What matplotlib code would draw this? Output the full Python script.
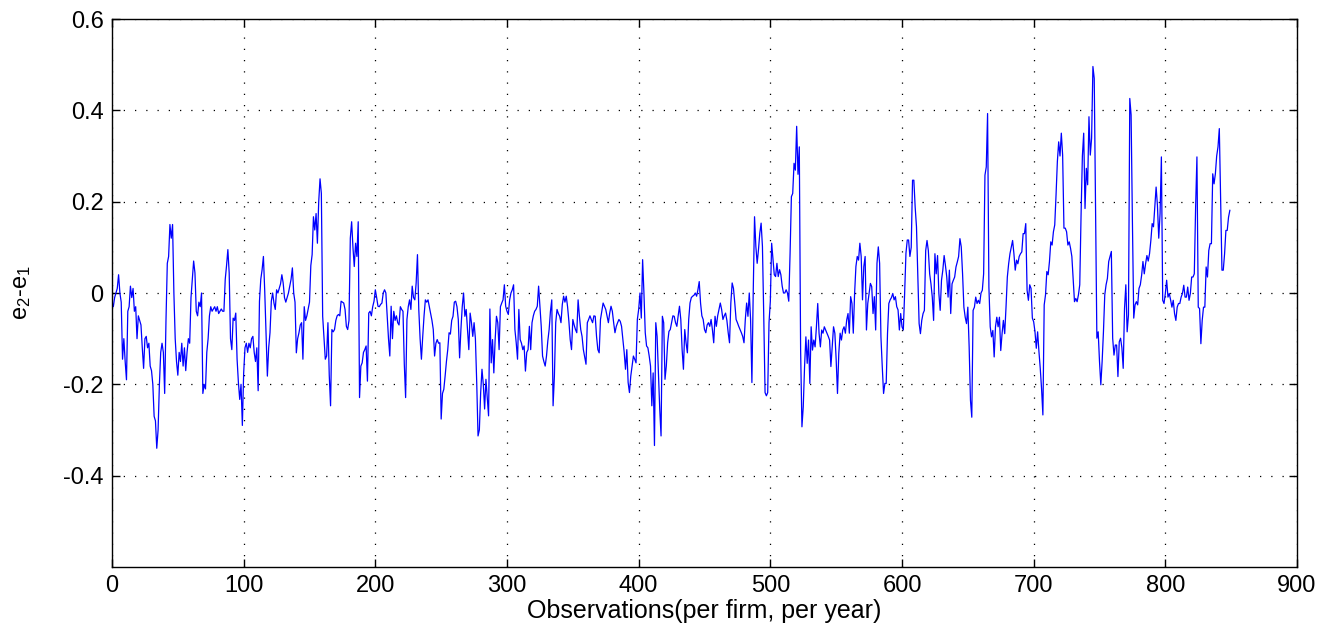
import numpy as np
import matplotlib
matplotlib.use("Agg")
import matplotlib.pyplot as plt

plt.rcParams['font.family'] = ['Liberation Sans', 'DejaVu Sans']
plt.rcParams['mathtext.fontset'] = 'custom'
plt.rcParams['mathtext.rm'] = 'Liberation Sans'
plt.rcParams['mathtext.it'] = 'Liberation Sans'
plt.rcParams['mathtext.default'] = 'regular'

seg1 = [-0.02, -0.03, -0.01, 0.0, 0.01, 0.04, 0.0, -0.02, -0.145, -0.10,
        -0.15, -0.19, -0.04, -0.03, 0.015, -0.01, 0.01, -0.04, -0.03, -0.10,
        -0.05, -0.06, -0.07, -0.12, -0.165, -0.10, -0.095, -0.12, -0.11, -0.16,
        -0.17, -0.20, -0.27, -0.28, -0.34, -0.30, -0.20, -0.13, -0.11, -0.13,
        -0.22, -0.06, 0.065, 0.08, 0.15, 0.12, 0.15, 0.0, -0.10, -0.15,
        -0.18, -0.13, -0.15, -0.11, -0.16, -0.12, -0.17, -0.13, -0.10, -0.11,
        -0.01, 0.03, 0.07, 0.044, -0.04, -0.05, -0.02, -0.03, 0.0, -0.22,
        -0.20, -0.21, -0.13, -0.10, -0.05, -0.03, -0.04, -0.035, -0.03, -0.04,
        -0.03, -0.045, -0.04, -0.035, -0.04, -0.04]
seg2 = [0.03, 0.06, 0.095, 0.044, -0.10, -0.124, -0.055, -0.06, -0.044, -0.145,
        -0.196, -0.233, -0.20, -0.29, -0.175, -0.12, -0.11, -0.13, -0.11, -0.12,
        -0.10, -0.095, -0.13, -0.15, -0.12, -0.214, -0.018, 0.03, 0.051, 0.08,
        0.004, -0.087, -0.182, -0.12, -0.087, -0.018, 0.0, -0.022, -0.036, 0.007,
        0.0, 0.01, 0.02, 0.04, 0.022, -0.01, -0.02, -0.01, 0.0, 0.015,
        0.03, 0.055, 0.0, -0.02, -0.131, -0.10, -0.087, -0.07, -0.065, -0.145,
        -0.03, -0.06, -0.05, -0.035, -0.02, 0.06, 0.084, 0.167, 0.138, 0.174,
        0.109, 0.20, 0.25, 0.218, -0.051, -0.10, -0.145, -0.138, -0.065, -0.18,
        -0.247, -0.08, -0.085, -0.08, -0.06, -0.05, -0.047]
seg3 = [-0.05, -0.018, -0.02, -0.022, -0.036, -0.073, -0.08, -0.06, 0.12, 0.156,
        0.10, 0.058, 0.109, 0.08, 0.156, -0.229, -0.16, -0.153, -0.13, -0.124,
        -0.116, -0.193, -0.044, -0.04, -0.05, -0.03, -0.018, 0.007, -0.01, -0.029,
        -0.03, -0.025, -0.022, 0.0, 0.007, 0.0, -0.05, -0.10, -0.138, -0.029,
        -0.10, -0.04, -0.06, -0.05, -0.065, -0.07, -0.03, -0.036, -0.04, -0.156,
        -0.229, -0.058, -0.03, -0.015, -0.036, 0.015, -0.01, -0.015, 0.022, 0.084,
        -0.036, -0.10, -0.145, -0.095, -0.05, -0.015, -0.02, -0.015, -0.03, -0.044,
        -0.06, -0.08, -0.138, -0.11, -0.102, -0.11, -0.109, -0.276, -0.22, -0.211,
        -0.182, -0.15, -0.124, -0.087, -0.09, -0.06, -0.051]
seg4 = [-0.02, -0.018, -0.03, -0.058, -0.142, -0.08, -0.03, 0.0, -0.051, -0.036,
        -0.08, -0.124, -0.044, -0.065, -0.095, -0.065, -0.10, -0.196, -0.313, -0.30,
        -0.218, -0.167, -0.20, -0.254, -0.189, -0.23, -0.269, -0.035, -0.153, -0.102,
        -0.175, -0.102, -0.051, -0.065, -0.124, -0.03, -0.022, -0.015, 0.018, -0.029,
        -0.04, -0.047, -0.015, 0.0, 0.007, 0.018, -0.08, -0.109, -0.145, -0.036,
        -0.102, -0.11, -0.124, -0.116, -0.171, -0.13, -0.124, -0.073, -0.124, -0.065,
        -0.05, -0.04, -0.036, -0.029, 0.015, -0.029, -0.073, -0.138, -0.15, -0.16,
        -0.138, -0.105, -0.08, -0.04, -0.015, -0.247, -0.182, -0.065, -0.036, -0.045,
        -0.051, -0.065, -0.025, -0.007, -0.02]
seg5 = [-0.007, -0.03, -0.062, -0.102, -0.124, -0.058, -0.07, -0.08, -0.087, -0.015,
        -0.051, -0.08, -0.095, -0.124, -0.140, -0.156, -0.065, -0.058, -0.05, -0.058,
        -0.065, -0.05, -0.051, -0.095, -0.124, -0.131, -0.058, -0.04, -0.022, -0.029,
        -0.036, -0.051, -0.065, -0.044, -0.029, -0.04, -0.065, -0.087, -0.073, -0.065,
        -0.058, -0.062, -0.073, -0.102, -0.13, -0.167, -0.124, -0.196, -0.218, -0.182,
        -0.16, -0.138, -0.145, -0.153, -0.058, -0.036, 0.0, -0.055, 0.073, 0.0,
        -0.087, -0.116, -0.12, -0.138, -0.16, -0.247, -0.175, -0.334, -0.065, -0.095,
        -0.175, -0.254, -0.313, -0.051, -0.065, -0.189, -0.16, -0.109, -0.084, -0.08,
        -0.065, -0.05, -0.051, -0.065, -0.073, -0.05, -0.029, -0.058, -0.124, -0.167]
seg6 = [-0.08, -0.109, -0.131, -0.058, -0.022, -0.01, -0.007, -0.005, 0.0, -0.007,
        0.007, 0.025, -0.022, -0.05, -0.058, -0.08, -0.087, -0.07, -0.065, -0.073,
        -0.058, -0.08, -0.109, -0.051, -0.073, -0.05, -0.036, -0.022, -0.036, -0.058,
        -0.05, -0.044, -0.06, -0.087, -0.109, -0.022, 0.022, 0.01, -0.022, -0.058,
        -0.065, -0.073, -0.08, -0.087, -0.095, -0.109, -0.058, -0.022, -0.051, 0.0,
        -0.058, -0.196, 0.0, 0.167, 0.102, 0.065, 0.095, 0.131, 0.153, 0.102,
        -0.051, -0.218, -0.225, -0.218, -0.065, -0.018, 0.109, 0.073, 0.04, 0.036,
        0.065, 0.036, 0.051, 0.04, 0.015, 0.0, 0.0, 0.007, 0.0, -0.018,
        0.087, 0.211, 0.218, 0.284, 0.269, 0.365, 0.26, 0.32]
seg7 = [-0.125, -0.293, -0.249, -0.161, -0.096, -0.154, -0.103, -0.198, -0.074, -0.125,
        -0.103, -0.118, -0.074, -0.023, -0.088, -0.118, -0.081, -0.088, -0.074, -0.081,
        -0.088, -0.095, -0.103, -0.161, -0.118, -0.074, -0.088, -0.146, -0.22, -0.132,
        -0.088, -0.103, -0.081, -0.074, -0.088, -0.059, -0.045, -0.088, -0.008, -0.023,
        -0.088, -0.001, 0.058, 0.08, 0.072, 0.109, 0.08, -0.015, 0.058, 0.08,
        -0.081, -0.023, -0.001, 0.021, 0.014, -0.045, -0.008, -0.081, 0.065, 0.101,
        0.065, -0.096, -0.161, -0.22, -0.198, -0.198, -0.088, -0.023, -0.015, -0.01,
        -0.001, -0.015, -0.008, -0.03, -0.037, -0.081, -0.045, -0.074, -0.081, -0.001,
        0.087, 0.116, 0.116, 0.08, 0.1, 0.247]
seg8 = [0.247, 0.188, 0.145, 0.042, -0.067, -0.089, -0.06, -0.045, -0.038, 0.093,
        0.115, 0.093, 0.042, 0.02, -0.009, -0.06, 0.086, 0.042, 0.082, -0.001,
        -0.038, 0.028, 0.05, 0.082, 0.06, 0.035, -0.009, 0.05, -0.045, 0.02,
        0.028, 0.035, 0.057, 0.068, 0.08, 0.119, 0.101, 0.042, -0.031, -0.053,
        -0.067, -0.031, -0.118, -0.235, -0.272, -0.038, -0.031, -0.009, -0.023, -0.016,
        -0.023, 0.0, 0.006, 0.042, 0.258, 0.276, 0.393, 0.013, -0.074, -0.096,
        -0.082, -0.14, -0.074, -0.053, -0.074, -0.053, -0.126, -0.089, -0.06, -0.089,
        -0.031, 0.035, 0.064, 0.086, 0.101, 0.115, 0.086, 0.05, 0.072, 0.064,
        0.08, 0.086, 0.09, 0.13, 0.13, 0.152, 0.006, -0.016]
seg9 = [0.018, 0.01, -0.055, -0.063, -0.085, -0.121, -0.085, -0.128, -0.165, -0.21,
        -0.267, -0.026, -0.004, 0.047, 0.04, 0.069, 0.112, 0.105, 0.134, 0.149,
        0.215, 0.288, 0.331, 0.30, 0.35, 0.302, 0.142, 0.142, 0.134, 0.105,
        0.112, 0.098, 0.08, 0.032, -0.019, -0.012, -0.019, -0.004, 0.018, 0.171,
        0.30, 0.35, 0.185, 0.273, 0.237, 0.386, 0.302, 0.339, 0.496, 0.47,
        0.185, -0.099, -0.085, -0.15, -0.201, -0.15, -0.085, -0.004, 0.018, 0.032,
        0.069, 0.08, 0.091, -0.099, -0.136, -0.114, -0.114, -0.183, -0.107, -0.099,
        -0.12, -0.165, -0.034, 0.018, -0.085, -0.048, 0.426, 0.39, 0.156, -0.055,
        -0.026, -0.019, -0.026, 0.01, 0.018, 0.039, 0.069]
seg10 = [0.042, 0.064, 0.082, 0.07, 0.086, 0.115, 0.152, 0.145, 0.188, 0.232,
         0.192, 0.12, 0.174, 0.298, -0.016, -0.023, -0.001, 0.028, -0.009, -0.001,
         -0.015, -0.031, -0.016, -0.045, -0.06, -0.031, -0.023, -0.023, -0.009, -0.001,
         0.017, -0.009, -0.009, 0.013, -0.016, -0.001, 0.035, 0.035, 0.042, 0.188,
         0.298, -0.031, -0.034, -0.111, -0.06, -0.031, -0.031, 0.057, 0.035, 0.093,
         0.108, 0.108, 0.261, 0.239, 0.261, 0.3, 0.32, 0.36, 0.21, 0.05,
         0.05, 0.086, 0.137, 0.137, 0.166, 0.181]

e_diff = np.array(seg1 + seg2 + seg3 + seg4 + seg5 + seg6 + seg7 + seg8 + seg9 + seg10)
obs = np.arange(len(e_diff))

x_ticks = [0, 100, 200, 300, 400, 500, 600, 700, 800, 900]
y_ticks = [-0.4, -0.2, 0, 0.2, 0.4, 0.6]
y_tick_labels = ['-0.4', '-0.2', '0', '0.2', '0.4', '0.6']

fig = plt.figure(figsize=(13.2, 6.41), dpi=100)
ax = fig.add_axes([112/1320, 1 - 567/641, (1297-112)/1320, (567-19)/641])
ax.plot(obs, e_diff, color=(0, 0, 1), linewidth=0.9)

ax.set_xlim(0, 900)
ax.set_ylim(-0.6, 0.6)
ax.set_xticks(x_ticks)
ax.set_xticklabels([str(t) for t in x_ticks])
ax.set_yticks(y_ticks)
ax.set_yticklabels(y_tick_labels)
ax.grid(True, color='black', linestyle=(0, (1, 8)), linewidth=0.9)
ax.tick_params(direction='in', top=True, right=True, length=6, width=1,
               labelsize=17, pad=6)
for s in ax.spines.values():
    s.set_linewidth(1.0)

ax.set_xlabel('Observations(per firm, per year)', fontsize=18, labelpad=1)
ax.set_ylabel('e$_2$-e$_1$', fontsize=17, labelpad=22)

fig.savefig('out.png', dpi=100, facecolor='white')
